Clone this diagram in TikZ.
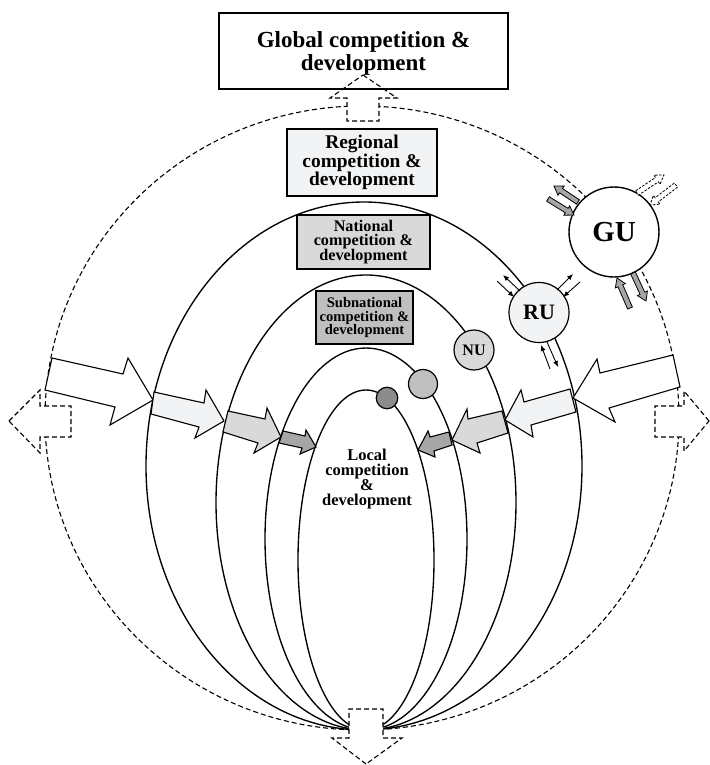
\documentclass[tikz,border=0pt]{standalone}
\usepackage{fontspec}
\setmainfont{Liberation Serif}
\usetikzlibrary{calc,arrows.meta}
\definecolor{cA}{HTML}{F2F3F5}
\definecolor{cB}{HTML}{D9D9D9}
\definecolor{cC}{HTML}{BFBFBF}
\definecolor{cD}{HTML}{A6A6A6}
\definecolor{cE}{HTML}{8C8C8C}
\newcommand\blockarr[6][]{%
  \coordinate (bkC) at ($(#3)!#6!(#2)$);
  \draw[#1] ($(#2)!#4!90:(#3)$) -- ($(bkC)!#4!90:(#3)$) -- ($(bkC)!#5!90:(#3)$) -- (#3)
    -- ($(bkC)!#5!-90:(#3)$) -- ($(bkC)!#4!-90:(#3)$) -- ($(#2)!#4!-90:(#3)$) -- cycle;}
\begin{document}
\begin{tikzpicture}[x=1pt,y=-1pt,
  solidl/.style={line width=1.35pt},
  dashl/.style={line width=1.1pt, dash pattern=on 5pt off 3pt},
  bigarr/.style={draw=black, line width=1.1pt, line join=miter},
  dasharr/.style={draw=black, fill=white, line width=1.1pt, dash pattern=on 5pt off 3pt, line join=miter},
  lvlbox/.style={draw=black, line width=1.1pt, inner sep=0pt, align=center},
  unit/.style={circle, draw=black, line width=1.2pt, inner sep=0pt},
  gsm/.style={draw=black, fill=cD, line width=0.8pt},
  dsm/.style={draw=black, fill=white, line width=0.8pt, dash pattern=on 2.5pt off 1.5pt},
  thinarr/.style={line width=0.9pt, -{Latex[length=6pt,width=5pt]}}]
\useasboundingbox (0,0) rectangle (709,765);
\fill[white] (0,0) rectangle (709,765);

% outer dashed circle
\draw[dashl] (362,418) ellipse [x radius=317, y radius=312];
% level ellipses
\draw[solidl] (364,466) ellipse [x radius=218, y radius=264];
\draw[solidl] (366,502.5) ellipse [x radius=150, y radius=227.5];
\draw[solidl] (366,539) ellipse [x radius=101, y radius=191];
\draw[solidl] (366,560) ellipse [x radius=68, y radius=170];

% big arrows left
\draw[bigarr, fill=white] (52,358) -- (123,374) -- (128,358) -- (153,400) -- (110,425) -- (115,407) -- (45,390) -- cycle;
\draw[bigarr, fill=cA] (154,392) -- (204,403) -- (206,390) -- (224,421) -- (195,438) -- (199,427) -- (151,414) -- cycle;
\draw[bigarr, fill=cB] (228,411) -- (265,419) -- (267,408) -- (281,437) -- (254,453) -- (258,443) -- (223,432) -- cycle;
\draw[bigarr, fill=cD] (283,431) -- (305,436) -- (306,430) -- (316,447) -- (300,454) -- (302,448) -- (279,443) -- cycle;
% big arrows right
\draw[bigarr, fill=white] (673,355) -- (600,373) -- (597,359) -- (573,398) -- (615,422) -- (609,408) -- (680,387) -- cycle;
\draw[bigarr, fill=cA] (570,389) -- (524,402) -- (521,390) -- (505,420) -- (533,437) -- (531,425) -- (576,412) -- cycle;
\draw[bigarr, fill=cB] (502,411) -- (468,419) -- (467,409) -- (452,440) -- (480,453) -- (477,443) -- (508,433) -- cycle;
\draw[bigarr, fill=cD] (449,432) -- (430,437) -- (428,431) -- (418,450) -- (435,457) -- (434,451) -- (452,445) -- cycle;

% units
\node[unit, fill=white, minimum size=90, line width=1.4pt, font=\fontsize{29}{29}\selectfont\bfseries] (GU) at (614,232) {GU};
\node[unit, fill=cA, minimum size=60, font=\fontsize{22}{22}\selectfont\bfseries] (RU) at (539,312.5) {RU};
\node[unit, fill=cB, minimum size=40, font=\fontsize{16}{16}\selectfont\bfseries] (NU) at (474,350) {NU};
\node[unit, fill=cC, minimum size=29] (SU) at (423,384) {};
\node[unit, fill=cE, minimum size=21.5] (LU) at (387,398) {};

% GU exchange arrows
\blockarr[gsm]{578,202}{554,186}{2.6pt}{5.5pt}{8.5pt}
\blockarr[gsm]{548,199}{574,215}{2.6pt}{5.5pt}{8.5pt}
\blockarr[dsm]{637,193}{664,175}{2.6pt}{5.5pt}{8.5pt}
\blockarr[dsm]{676,185}{650,205}{2.6pt}{5.5pt}{8.5pt}
\blockarr[gsm]{630,308}{617,278}{2.6pt}{5.5pt}{8.5pt}
\blockarr[gsm]{633,273}{646,301}{2.6pt}{5.5pt}{8.5pt}

% RU exchange arrows
\draw[thinarr] (520,291) -- (503,275);
\draw[thinarr] (497,281) -- (514,297);
\draw[thinarr] (557,290) -- (573,274);
\draw[thinarr] (580,282) -- (563,297);
\draw[thinarr] (550,369) -- (541,345);
\draw[thinarr] (547,342) -- (558,367);

% level boxes
\node[lvlbox, fill=cA, minimum width=150, minimum height=67, font=\fontsize{19.4}{17.6}\selectfont\bfseries] (reg) at (362,162.5) {Regional\\competition \&\\development};
\node[lvlbox, fill=cB, minimum width=133, minimum height=54, font=\fontsize{16.2}{14.7}\selectfont\bfseries] (nat) at (363.5,242) {National\\competition \&\\development};
\node[lvlbox, fill=cC, minimum width=97, minimum height=53, font=\fontsize{14.6}{13.6}\selectfont\bfseries] (sub) at (364.5,317.5) {Subnational\\competition \&\\development};
\node[font=\fontsize{16.5}{15}\selectfont\bfseries, align=center, inner sep=0pt] (loc) at (367,479) {Local\\competition\\\&\\development};

% dashed arrows
\draw[dasharr] (9,421) -- (40,390) -- (40,406) -- (71,406) -- (71,437) -- (40,437) -- (40,453) -- cycle;
\draw[dasharr] (709,421) -- (684,391) -- (684,406) -- (655,406) -- (655,437) -- (684,437) -- (684,451) -- cycle;
\draw[dasharr] (366,764) -- (332,738) -- (349,738) -- (349,709) -- (383,709) -- (383,738) -- (402,738) -- cycle;
\draw[dasharr] (363,75) -- (397,98) -- (379,98) -- (379,121) -- (347,121) -- (347,98) -- (330,98) -- cycle;

% global box
\node[draw, line width=1.1pt, minimum width=289, minimum height=76, inner sep=0pt] (glob) at (363.5,51) {};
\node[font=\fontsize{23}{23}\selectfont\bfseries, align=center, inner sep=0pt] (globt) at (363.5,53) {Global competition \&\\development};
\end{tikzpicture}
\end{document}
